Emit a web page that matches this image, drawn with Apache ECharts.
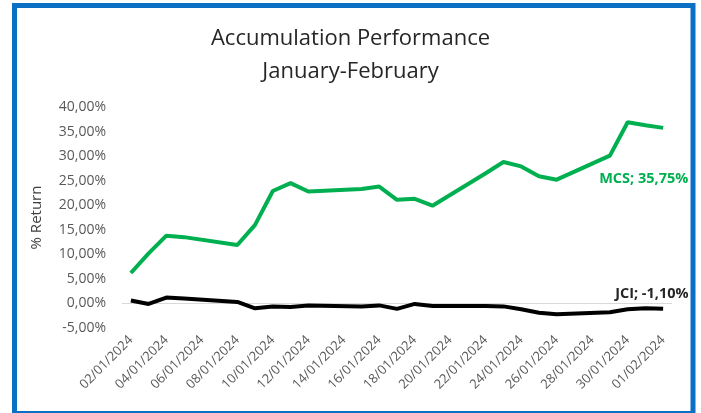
<!DOCTYPE html>
<html lang="en">
<head>
	<title>Accumulation Performance</title>
	<meta charset="UTF-8">
	<script src="https://cdn.jsdelivr.net/npm/echarts@6/dist/echarts.min.js"></script>
<style type="text/css">
	html,body{
		margin: 0;
		padding: 0;
		background-color: #FFFFFF;
	}
	#chart{
		width: 701px;
		height: 413px;
	}
</style>
</head>
<body>
	<div id="chart"></div>
	<script>
		// calendar days on the date axis (weekends have no value)
		var dates = ['02/01/2024','03/01/2024','04/01/2024','05/01/2024','06/01/2024','07/01/2024',
			'08/01/2024','09/01/2024','10/01/2024','11/01/2024','12/01/2024','13/01/2024','14/01/2024',
			'15/01/2024','16/01/2024','17/01/2024','18/01/2024','19/01/2024','20/01/2024','21/01/2024',
			'22/01/2024','23/01/2024','24/01/2024','25/01/2024','26/01/2024','27/01/2024','28/01/2024',
			'29/01/2024','30/01/2024','31/01/2024','01/02/2024'];
		// % return
		var mcs = [6.2, 10.2, 13.8, 13.5, null, null,
			11.9, 16.0, 22.9, 24.5, 22.8, null, null,
			23.3, 23.8, 21.1, 21.3, 19.9, null, null,
			26.5, 28.8, 27.9, 25.9, 25.2, null, null,
			30.1, 36.9, 36.3, 35.75];
		var jci = [0.6, -0.1, 1.2, 1.0, null, null,
			0.3, -1.0, -0.6, -0.7, -0.4, null, null,
			-0.6, -0.4, -1.1, -0.1, -0.5, null, null,
			-0.5, -0.6, -1.2, -1.9, -2.2, null, null,
			-1.8, -1.2, -1.0, -1.10];

		function pct(v) {
			return v.toFixed(2).replace('.', ',') + '%';
		}

		var chart = echarts.init(document.getElementById('chart'));
		var option = {
			animation: false,
			backgroundColor: '#FFFFFF',
			title: {
				text: 'Accumulation Performance\nJanuary-February',
				left: 'center',
				top: 17,
				textStyle: {
					fontFamily: 'Open Sans',
					fontSize: 22,
					fontWeight: 'normal',
					color: '#262626',
					lineHeight: 33
				}
			},
			grid: {
				left: 122,
				right: 29,
				top: 107,
				bottom: 85
			},
			graphic: [{
				type: 'rect',
				shape: {x: 14.5, y: 5.5, width: 678.5, height: 408},
				style: {fill: 'none', stroke: '#0A70C4', lineWidth: 5},
				z: 100
			}],
			xAxis: {
				type: 'category',
				data: dates,
				boundaryGap: true,
				axisLine: {show: false},
				axisTick: {show: false},
				axisLabel: {
					interval: 1,
					rotate: 45,
					margin: 10,
					fontFamily: 'Open Sans',
					fontSize: 13,
					color: '#595959'
				}
			},
			yAxis: {
				type: 'value',
				min: -5,
				max: 40,
				interval: 5,
				name: '% Return',
				nameLocation: 'middle',
				nameGap: 78,
				nameTextStyle: {
					fontFamily: 'Open Sans',
					fontSize: 15,
					color: '#404040'
				},
				axisLine: {show: false},
				axisTick: {show: false},
				splitLine: {show: false},
				axisLabel: {
					margin: 16,
					fontFamily: 'Open Sans',
					fontSize: 14,
					color: '#595959',
					formatter: pct
				}
			},
			series: [{
				name: 'MCS',
				type: 'line',
				data: mcs,
				connectNulls: true,
				showSymbol: false,
				symbol: 'none',
				lineStyle: {color: '#00B050', width: 4},
				itemStyle: {color: '#00B050'},
				endLabel: {
					show: true,
					formatter: function (p) { return 'MCS; ' + pct(p.value); },
					offset: [-72, 51],
					fontFamily: 'Open Sans',
					fontSize: 14.5,
					fontWeight: 'bold',
					color: '#00B050'
				},
				z: 3
			}, {
				name: 'JCI',
				type: 'line',
				data: jci,
				connectNulls: true,
				showSymbol: false,
				symbol: 'none',
				lineStyle: {color: '#000000', width: 4},
				itemStyle: {color: '#000000'},
				endLabel: {
					show: true,
					formatter: function (p) { return 'JCI; ' + pct(p.value); },
					offset: [-56, -15],
					fontFamily: 'Open Sans',
					fontSize: 14.5,
					fontWeight: 'bold',
					color: '#262626'
				},
				// thin zero line like the excel axis
				markLine: {
					silent: true,
					symbol: 'none',
					label: {show: false},
					lineStyle: {color: '#D9D9D9', width: 1, type: 'solid'},
					data: [{yAxis: 0}],
					z: 1
				},
				z: 4
			}]
		};
		chart.setOption(option);
	</script>
</body>
</html>
